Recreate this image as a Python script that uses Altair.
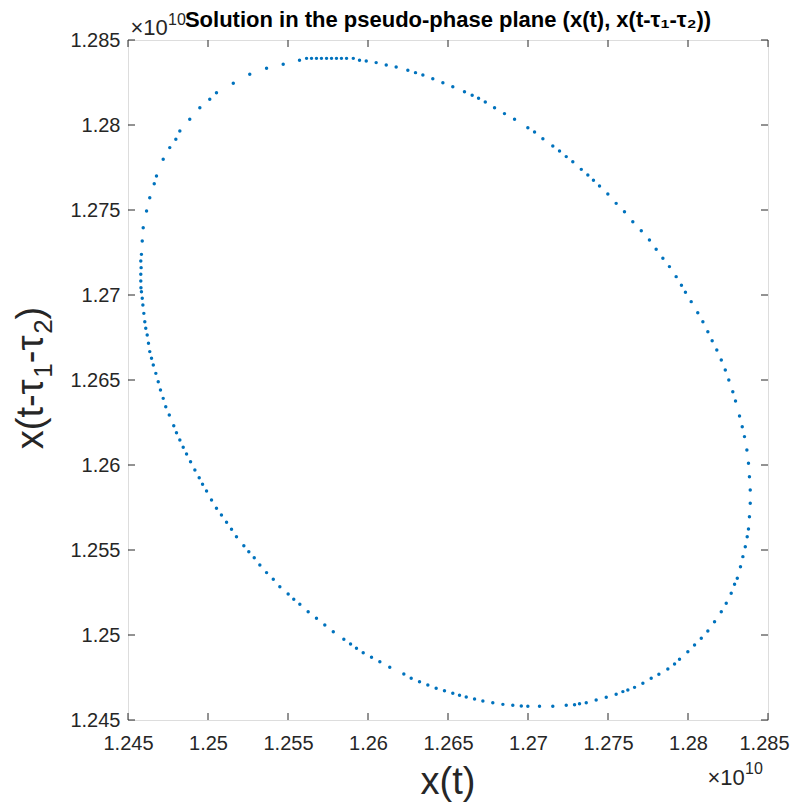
import altair as alt
import pandas as pd

# Values (units of 1e10)
x_vals = [
    1.25616, 1.25647, 1.25678, 1.25709, 1.25741, 1.25772, 1.25803, 1.25834, 1.25866, 1.25908,
    1.25947, 1.25989, 1.26051, 1.26114, 1.26176, 1.26249, 1.26297, 1.26343, 1.26405, 1.26468,
    1.26530, 1.26603, 1.26651, 1.26691, 1.26733, 1.26791, 1.26853, 1.26916, 1.26999, 1.27041,
    1.27093, 1.27155,
    1.27197, 1.27239, 1.27280, 1.27333, 1.27374, 1.27409, 1.27447, 1.27499, 1.27551, 1.27603,
    1.27655, 1.27708, 1.27759, 1.27801, 1.27843, 1.27884, 1.27926, 1.27959, 1.27984, 1.28020,
    1.28061, 1.28093, 1.28124, 1.28151, 1.28180, 1.28208, 1.28233, 1.28255, 1.28280, 1.28297,
    1.28322, 1.28339, 1.28353,
    1.28368, 1.28378, 1.28384, 1.28389, 1.28389, 1.28384, 1.28378, 1.28370, 1.28358, 1.28343,
    1.28328, 1.28308, 1.28291, 1.28270, 1.28239, 1.28208, 1.28166, 1.28124, 1.28083, 1.28041,
    1.27999, 1.27947, 1.27916, 1.27874,
    1.27818, 1.27770, 1.27718, 1.27666, 1.27624, 1.27593, 1.27551, 1.27489, 1.27426, 1.27364,
    1.27322, 1.27291, 1.27239, 1.27155, 1.27072, 1.26999, 1.26958, 1.26905, 1.26843, 1.26780,
    1.26718, 1.26666, 1.26614, 1.26572, 1.26530, 1.26478, 1.26426, 1.26374, 1.26322, 1.26270,
    1.26224, 1.26136, 1.26074, 1.26022, 1.25970, 1.25928, 1.25891, 1.25849, 1.25783, 1.25730,
    1.25678, 1.25626, 1.25574, 1.25536, 1.25501, 1.25449, 1.25408, 1.25366, 1.25324, 1.25289,
    1.25255, 1.25224, 1.25178, 1.25147, 1.25116, 1.25084, 1.25053, 1.25022, 1.24991, 1.24966,
    1.24945, 1.24918, 1.24891, 1.24866, 1.24845, 1.24824, 1.24803, 1.24786, 1.24758, 1.24736,
    1.24720, 1.24703, 1.24689, 1.24674, 1.24658, 1.24647, 1.24636, 1.24628, 1.24620, 1.24611,
    1.24605, 1.24599, 1.24593, 1.24589, 1.24584,
    1.24581, 1.24580, 1.24580, 1.24582, 1.24580, 1.24584, 1.24589, 1.24595, 1.24616, 1.24636,
    1.24664, 1.24678, 1.24720, 1.24761, 1.24799, 1.24824, 1.24886, 1.24949, 1.25011, 1.25053,
    1.25158, 1.25261, 1.25366, 1.25470, 1.25572,
]
y_vals = [
    1.28392, 1.28392, 1.28392, 1.28392, 1.28392, 1.28392, 1.28392, 1.28392, 1.28392, 1.28392,
    1.28381, 1.28377, 1.28367, 1.28353, 1.28341, 1.28322, 1.28308, 1.28294, 1.28272, 1.28249,
    1.28225, 1.28196, 1.28175, 1.28157, 1.28135, 1.28102, 1.28067, 1.28034, 1.27984, 1.27959,
    1.27919, 1.27877,
    1.27847, 1.27814, 1.27784, 1.27739, 1.27706, 1.27675, 1.27641, 1.27594, 1.27539, 1.27490,
    1.27431, 1.27378, 1.27324, 1.27269, 1.27216, 1.27167, 1.27108, 1.27057, 1.27016, 1.26961,
    1.26896, 1.26843, 1.26784, 1.26731, 1.26677, 1.26618, 1.26559, 1.26500, 1.26431, 1.26377,
    1.26288, 1.26225, 1.26167,
    1.26088, 1.26010, 1.25931, 1.25853, 1.25775, 1.25696, 1.25624, 1.25578, 1.25519, 1.25461,
    1.25402, 1.25334, 1.25298, 1.25245, 1.25187, 1.25137, 1.25078, 1.25024, 1.24981, 1.24941,
    1.24902, 1.24857, 1.24829, 1.24800,
    1.24769, 1.24745, 1.24716, 1.24692, 1.24677, 1.24667, 1.24651, 1.24634, 1.24618, 1.24602,
    1.24596, 1.24590, 1.24587, 1.24581, 1.24581, 1.24581, 1.24582, 1.24587, 1.24592, 1.24602,
    1.24612, 1.24624, 1.24635, 1.24645, 1.24657, 1.24672, 1.24687, 1.24706, 1.24725, 1.24745,
    1.24771, 1.24810, 1.24843, 1.24869, 1.24896, 1.24922, 1.24947, 1.24975, 1.25019, 1.25059,
    1.25098, 1.25137, 1.25181, 1.25210, 1.25241, 1.25284, 1.25328, 1.25367, 1.25412, 1.25455,
    1.25490, 1.25525, 1.25578, 1.25622, 1.25663, 1.25706, 1.25745, 1.25794, 1.25847, 1.25887,
    1.25925, 1.25971, 1.26019, 1.26065, 1.26104, 1.26147, 1.26190, 1.26231, 1.26294, 1.26343,
    1.26392, 1.26441, 1.26490, 1.26539, 1.26588, 1.26628, 1.26667, 1.26716, 1.26765, 1.26804,
    1.26843, 1.26892, 1.26941, 1.26981, 1.27019,
    1.27043, 1.27082, 1.27122, 1.27161, 1.27200, 1.27239, 1.27318, 1.27396, 1.27494, 1.27572,
    1.27655, 1.27700, 1.27798, 1.27867, 1.27916, 1.27965, 1.28034, 1.28102, 1.28151, 1.28190,
    1.28245, 1.28298, 1.28334, 1.28357, 1.28381,
]
tick_vals = [1.245, 1.25, 1.255, 1.26, 1.265, 1.27, 1.275, 1.28, 1.285]

title_text = "Solution in the pseudo-phase plane (x(t), x(t-τ₁-τ₂))"
x_title = "x(t)"
# y title pieces: main text and subscripts
y_title_parts = [("x(t-τ", False), ("1", True), ("-τ", False), ("2", True), (")", False)]

W, H = 640, 680
FONT = "Liberation Sans"
AX = "#262626"

df = pd.DataFrame({"x": x_vals, "y": y_vals})
tdf = pd.DataFrame({"v": tick_vals})

xscale = alt.Scale(domain=[1.245, 1.285], nice=False, zero=False)
yscale = alt.Scale(domain=[1.245, 1.285], nice=False, zero=False)

axis_common = dict(
    values=tick_vals, format=".4~f", ticks=False, domain=False, grid=False,
    labelFont=FONT, labelFontSize=20, labelColor=AX, title="",
    labelFlush=False, labelOverlap=False, labelBound=False,
)
xaxis = alt.Axis(labelPadding=13, labelOffset={"expr": "datum.value > 1.2849 ? -4 : 0"}, **axis_common)
yaxis = alt.Axis(labelPadding=8, **axis_common)

points = alt.Chart(df).mark_circle(size=12, color="#0072BD", opacity=1).encode(
    x=alt.X("x:Q", scale=xscale, axis=xaxis),
    y=alt.Y("y:Q", scale=yscale, axis=yaxis),
)

tick_len = 7
xt_bottom = alt.Chart(tdf).mark_rule(color=AX, strokeWidth=1).encode(
    x=alt.X("v:Q", scale=xscale, axis=xaxis), y=alt.value(H), y2=alt.value(H - tick_len))
xt_top = alt.Chart(tdf).mark_rule(color=AX, strokeWidth=1).encode(
    x=alt.X("v:Q", scale=xscale, axis=xaxis), y=alt.value(0), y2=alt.value(tick_len))
yt_left = alt.Chart(tdf).mark_rule(color=AX, strokeWidth=1).encode(
    y=alt.Y("v:Q", scale=yscale, axis=yaxis), x=alt.value(0), x2=alt.value(tick_len))
yt_right = alt.Chart(tdf).mark_rule(color=AX, strokeWidth=1).encode(
    y=alt.Y("v:Q", scale=yscale, axis=yaxis), x=alt.value(W), x2=alt.value(W - tick_len))


def label(text, x, y, size, weight="normal", align="center", angle=0, color=AX):
    return alt.Chart(pd.DataFrame({"t": [text]})).mark_text(
        font=FONT, fontSize=size, fontWeight=weight, color=color,
        align=align, baseline="alphabetic", angle=angle,
    ).encode(text="t:N", x=alt.value(x), y=alt.value(y))


title = label(title_text, 320, -13, 22, weight="bold", color="black")
xlab = label(x_title, 320, 754, 38)

# rotated y title built from pieces (reading bottom to top)
widths = {"x": 0.5, "(": 0.333, ")": 0.333, "t": 0.278, "-": 0.333, "τ": 0.44, "1": 0.556, "2": 0.556}
main_fs, sub_fs = 38, 26
pieces = []
for txt, is_sub in y_title_parts:
    fs = sub_fs if is_sub else main_fs
    pieces.append((txt, is_sub, fs, sum(widths[c] for c in txt) * fs))
total = sum(p[3] for p in pieces)
cur = 338 + total / 2
ylabs = []
for txt, is_sub, fs, w in pieces:
    ylabs.append(label(txt, -85 + (9 if is_sub else 0), cur, fs, align="left", angle=270))
    cur -= w

exp_tl = label("×10", 2.5, -5, 22, align="left")
exp_tl_s = label("10", 40, -15, 16, align="left")
exp_br = label("×10", 579.5, 745, 22, align="left")
exp_br_s = label("10", 617, 734, 16, align="left")

chart = alt.layer(
    points, xt_bottom, xt_top, yt_left, yt_right,
    title, xlab, *ylabs, exp_tl, exp_tl_s, exp_br, exp_br_s,
).properties(
    width=W, height=H,
    padding={"left": 120, "top": 32, "right": 22, "bottom": 85},
    autosize=alt.AutoSizeParams(type="none"),
).configure_view(stroke=AX, strokeWidth=1).configure(background="white")

chart.save("out.html", embed_options={"renderer": "svg", "actions": False})
